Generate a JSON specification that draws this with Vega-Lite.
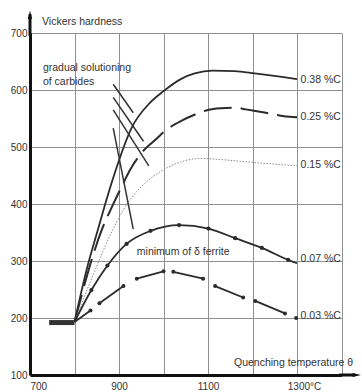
{
  "$schema": "https://vega.github.io/schema/vega-lite/v6.json",
  "width": 311.5,
  "height": 342,
  "autosize": "none",
  "padding": {"left": 30, "top": 33, "right": 20.5, "bottom": 17},
  "background": "white",
  "config": {
    "font": "Liberation Sans",
    "view": {"stroke": null},
    "text": {"font": "Liberation Sans", "fontSize": 10.5, "color": "#333"}
  },
  "datasets": {
    "curves": [
      {"c": "0.38", "seg": 1, "T": 800, "HV": 193},
      {"c": "0.38", "seg": 1, "T": 830, "HV": 293},
      {"c": "0.38", "seg": 1, "T": 853, "HV": 356},
      {"c": "0.38", "seg": 1, "T": 872, "HV": 408},
      {"c": "0.38", "seg": 1, "T": 895, "HV": 465},
      {"c": "0.38", "seg": 1, "T": 928, "HV": 533},
      {"c": "0.38", "seg": 1, "T": 970, "HV": 578},
      {"c": "0.38", "seg": 1, "T": 1000, "HV": 598},
      {"c": "0.38", "seg": 1, "T": 1041, "HV": 620},
      {"c": "0.38", "seg": 1, "T": 1070, "HV": 629},
      {"c": "0.38", "seg": 1, "T": 1110, "HV": 634},
      {"c": "0.38", "seg": 1, "T": 1160, "HV": 633},
      {"c": "0.38", "seg": 1, "T": 1205, "HV": 629},
      {"c": "0.38", "seg": 1, "T": 1300, "HV": 619},
      {"c": "0.25", "seg": 1, "T": 800, "HV": 193},
      {"c": "0.25", "seg": 1, "T": 861, "HV": 354},
      {"c": "0.25", "seg": 1, "T": 886, "HV": 398},
      {"c": "0.25", "seg": 1, "T": 910, "HV": 437},
      {"c": "0.25", "seg": 1, "T": 925, "HV": 460},
      {"c": "0.25", "seg": 1, "T": 950, "HV": 489},
      {"c": "0.25", "seg": 1, "T": 985, "HV": 515},
      {"c": "0.25", "seg": 1, "T": 1003, "HV": 528},
      {"c": "0.25", "seg": 1, "T": 1040, "HV": 546},
      {"c": "0.25", "seg": 1, "T": 1071, "HV": 557},
      {"c": "0.25", "seg": 1, "T": 1100, "HV": 565},
      {"c": "0.25", "seg": 1, "T": 1130, "HV": 568},
      {"c": "0.25", "seg": 1, "T": 1163, "HV": 569},
      {"c": "0.25", "seg": 1, "T": 1185, "HV": 566},
      {"c": "0.25", "seg": 1, "T": 1230, "HV": 560},
      {"c": "0.25", "seg": 1, "T": 1271, "HV": 554},
      {"c": "0.25", "seg": 1, "T": 1300, "HV": 552},
      {"c": "0.15", "seg": 1, "T": 800, "HV": 193},
      {"c": "0.15", "seg": 1, "T": 840, "HV": 272},
      {"c": "0.15", "seg": 1, "T": 880, "HV": 345},
      {"c": "0.15", "seg": 1, "T": 910, "HV": 390},
      {"c": "0.15", "seg": 1, "T": 940, "HV": 422},
      {"c": "0.15", "seg": 1, "T": 970, "HV": 444},
      {"c": "0.15", "seg": 1, "T": 1000, "HV": 460},
      {"c": "0.15", "seg": 1, "T": 1040, "HV": 474},
      {"c": "0.15", "seg": 1, "T": 1084, "HV": 480},
      {"c": "0.15", "seg": 1, "T": 1110, "HV": 479},
      {"c": "0.15", "seg": 1, "T": 1200, "HV": 473},
      {"c": "0.15", "seg": 1, "T": 1300, "HV": 467},
      {"c": "0.07", "seg": 1, "T": 800, "HV": 193},
      {"c": "0.07", "seg": 1, "T": 838, "HV": 249},
      {"c": "0.07", "seg": 1, "T": 874, "HV": 292},
      {"c": "0.07", "seg": 1, "T": 917, "HV": 330},
      {"c": "0.07", "seg": 1, "T": 971, "HV": 353},
      {"c": "0.07", "seg": 1, "T": 1035, "HV": 363},
      {"c": "0.07", "seg": 1, "T": 1101, "HV": 357},
      {"c": "0.07", "seg": 1, "T": 1161, "HV": 340},
      {"c": "0.07", "seg": 1, "T": 1221, "HV": 323},
      {"c": "0.07", "seg": 1, "T": 1280, "HV": 302},
      {"c": "0.07", "seg": 1, "T": 1300, "HV": 296},
      {"c": "0.03", "seg": 1, "T": 800, "HV": 193},
      {"c": "0.03", "seg": 1, "T": 836, "HV": 213},
      {"c": "0.03", "seg": 2, "T": 856, "HV": 226},
      {"c": "0.03", "seg": 2, "T": 910, "HV": 256},
      {"c": "0.03", "seg": 3, "T": 940, "HV": 269},
      {"c": "0.03", "seg": 3, "T": 1000, "HV": 282},
      {"c": "0.03", "seg": 4, "T": 1022, "HV": 281},
      {"c": "0.03", "seg": 4, "T": 1089, "HV": 269},
      {"c": "0.03", "seg": 5, "T": 1116, "HV": 256},
      {"c": "0.03", "seg": 5, "T": 1179, "HV": 236},
      {"c": "0.03", "seg": 6, "T": 1206, "HV": 230},
      {"c": "0.03", "seg": 6, "T": 1273, "HV": 208},
      {"c": "0.03", "seg": 7, "T": 1298, "HV": 200}
    ],
    "hatch": [
      {"T1": 887, "H1": 610, "T2": 932, "H2": 560},
      {"T1": 887, "H1": 587, "T2": 955, "H2": 510},
      {"T1": 887, "H1": 565, "T2": 967, "H2": 467},
      {"T1": 887, "H1": 533, "T2": 932, "H2": 356}
    ],
    "base": [{"T1": 743, "T2": 800, "HV": 192}],
    "curveLabels": [
      {"label": "0.38 %C", "T": 1308, "HV": 618},
      {"label": "0.25 %C", "T": 1308, "HV": 552},
      {"label": "0.15 %C", "T": 1308, "HV": 468},
      {"label": "0.07 %C", "T": 1308, "HV": 303},
      {"label": "0.03 %C", "T": 1308, "HV": 203}
    ],
    "notes": [
      {"label": "Vickers hardness", "T": 727, "HV": 719},
      {"label": "gradual solutioning", "T": 729, "HV": 639},
      {"label": "of carbides", "T": 729, "HV": 614},
      {"label": "minimum of δ ferrite", "T": 940, "HV": 316}
    ],
    "xtitle": [{"label": "Quenching temperature θ", "T": 1426, "HV": 121}]
  },
  "layer": [
    {
      "data": {"name": "curves"},
      "transform": [{"filter": "datum.c == '0.38'"}],
      "mark": {"type": "line", "interpolate": "monotone", "color": "#2b2b2b", "strokeWidth": 1.8},
      "encoding": {
        "x": {"field": "T", "type": "quantitative", "scale": {"domain": [700, 1400], "nice": false, "zero": false},
          "axis": {"values": [700, 800, 900, 1000, 1100, 1200, 1300, 1400], "title": null,
            "labelExpr": "datum.value == 700 ? '700' : datum.value == 900 ? '900' : datum.value == 1100 ? '1100' : datum.value == 1300 ? '1300°C' : ''",
            "labelOffset": {"condition": {"test": "datum.value == 1300", "value": 7}, "value": 0},
            "grid": true, "gridColor": "#909090", "gridWidth": 1, "gridOpacity": 1,
            "domainColor": "#111", "domainWidth": 3, "ticks": false,
            "labelFontSize": 10, "labelColor": "#333", "labelPadding": 6, "labelFont": "Liberation Sans"}},
        "y": {"field": "HV", "type": "quantitative", "scale": {"domain": [100, 700], "nice": false, "zero": false},
          "axis": {"values": [100, 200, 300, 400, 500, 600, 700], "title": null,
            "grid": true, "gridColor": "#909090", "gridWidth": 1, "gridOpacity": 1,
            "domainColor": "#111", "domainWidth": 3, "ticks": false,
            "labelFontSize": 10, "labelColor": "#333", "labelPadding": 3, "labelFont": "Liberation Sans"}}
      }
    },
    {
      "data": {"name": "curves"},
      "transform": [{"filter": "datum.c == '0.25'"}],
      "mark": {"type": "line", "interpolate": "monotone", "color": "#2b2b2b", "strokeWidth": 2, "strokeDash": [28, 9]},
      "encoding": {"x": {"field": "T", "type": "quantitative"}, "y": {"field": "HV", "type": "quantitative"}}
    },
    {
      "data": {"name": "curves"},
      "transform": [{"filter": "datum.c == '0.15'"}],
      "mark": {"type": "line", "interpolate": "monotone", "color": "#8a8a8a", "strokeWidth": 1, "strokeDash": [1.5, 1.5]},
      "encoding": {"x": {"field": "T", "type": "quantitative"}, "y": {"field": "HV", "type": "quantitative"}}
    },
    {
      "data": {"name": "curves"},
      "transform": [{"filter": "datum.c == '0.07'"}],
      "mark": {"type": "line", "interpolate": "monotone", "color": "#2b2b2b", "strokeWidth": 1.8},
      "encoding": {"x": {"field": "T", "type": "quantitative"}, "y": {"field": "HV", "type": "quantitative"}}
    },
    {
      "data": {"name": "curves"},
      "transform": [{"filter": "datum.c == '0.07' && datum.T > 800 && datum.T < 1300"}],
      "mark": {"type": "point", "filled": true, "color": "#2b2b2b", "size": 18, "opacity": 1},
      "encoding": {"x": {"field": "T", "type": "quantitative"}, "y": {"field": "HV", "type": "quantitative"}}
    },
    {
      "data": {"name": "curves"},
      "transform": [{"filter": "datum.c == '0.03'"}],
      "mark": {"type": "line", "color": "#2b2b2b", "strokeWidth": 1.8},
      "encoding": {"x": {"field": "T", "type": "quantitative"}, "y": {"field": "HV", "type": "quantitative"}, "detail": {"field": "seg"}}
    },
    {
      "data": {"name": "curves"},
      "transform": [{"filter": "datum.c == '0.03' && datum.T > 800"}],
      "mark": {"type": "point", "filled": true, "color": "#2b2b2b", "size": 16, "opacity": 1},
      "encoding": {"x": {"field": "T", "type": "quantitative"}, "y": {"field": "HV", "type": "quantitative"}}
    },
    {
      "data": {"name": "hatch"},
      "mark": {"type": "rule", "color": "#333", "strokeWidth": 1.5},
      "encoding": {
        "x": {"field": "T1", "type": "quantitative"}, "y": {"field": "H1", "type": "quantitative"},
        "x2": {"field": "T2"}, "y2": {"field": "H2"}
      }
    },
    {
      "data": {"name": "base"},
      "mark": {"type": "rule", "color": "#333", "strokeWidth": 5},
      "encoding": {
        "x": {"field": "T1", "type": "quantitative"}, "x2": {"field": "T2"},
        "y": {"field": "HV", "type": "quantitative"}
      }
    },
    {
      "data": {"name": "curveLabels"},
      "mark": {"type": "text", "align": "left", "baseline": "middle", "fontSize": 10.5, "color": "#333"},
      "encoding": {"x": {"field": "T", "type": "quantitative"}, "y": {"field": "HV", "type": "quantitative"}, "text": {"field": "label"}}
    },
    {
      "data": {"name": "notes"},
      "mark": {"type": "text", "align": "left", "baseline": "middle", "fontSize": 10.5, "color": "#333"},
      "encoding": {"x": {"field": "T", "type": "quantitative"}, "y": {"field": "HV", "type": "quantitative"}, "text": {"field": "label"}}
    },
    {
      "data": {"name": "xtitle"},
      "mark": {"type": "text", "align": "right", "baseline": "middle", "fontSize": 10.5, "color": "#333"},
      "encoding": {"x": {"field": "T", "type": "quantitative"}, "y": {"field": "HV", "type": "quantitative"}, "text": {"field": "label"}}
    },
    {
      "data": {"values": [{}]},
      "mark": {"type": "rule", "color": "#111", "strokeWidth": 3},
      "encoding": {"x": {"datum": 700, "type": "quantitative"}, "y": {"datum": 695, "type": "quantitative"}, "y2": {"datum": 733}}
    },
    {
      "data": {"values": [{}]},
      "mark": {"type": "rule", "color": "#111", "strokeWidth": 3},
      "encoding": {"x": {"datum": 1395, "type": "quantitative"}, "x2": {"datum": 1430}, "y": {"datum": 100, "type": "quantitative"}}
    },
    {
      "data": {"values": [{}]},
      "mark": {"type": "point", "filled": true, "color": "#111", "opacity": 1, "size": 110, "shape": "M0,-1L0.4,0.6L-0.4,0.6Z"},
      "encoding": {"x": {"datum": 700, "type": "quantitative"}, "y": {"datum": 730, "type": "quantitative"}}
    },
    {
      "data": {"values": [{}]},
      "mark": {"type": "point", "filled": true, "color": "#111", "opacity": 1, "size": 110, "shape": "M1,0L-0.6,0.4L-0.6,-0.4Z"},
      "encoding": {"x": {"datum": 1432, "type": "quantitative"}, "y": {"datum": 100, "type": "quantitative"}}
    }
  ]
}
